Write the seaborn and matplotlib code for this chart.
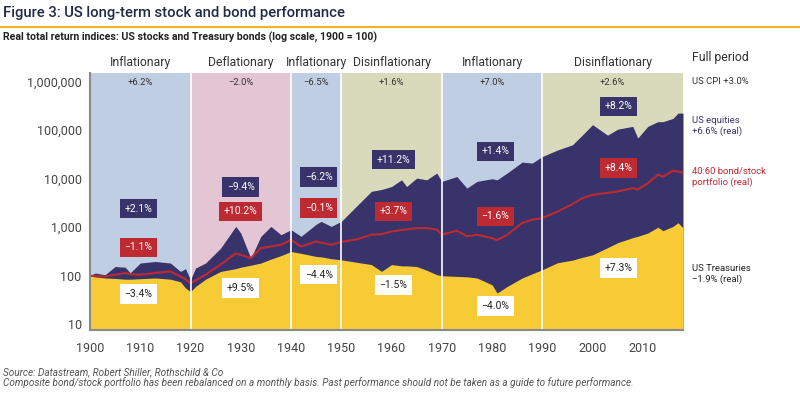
import matplotlib
matplotlib.use("Agg")
import matplotlib.pyplot as plt
from matplotlib.lines import Line2D
import pandas as pd
import seaborn as sns

# Datos (índices reales, escala log, 1900 = 100)
years = [1900, 1901, 1903, 1905, 1907, 1908, 1910, 1913, 1916, 1918,
         1919, 1920, 1921, 1923, 1926, 1929, 1930, 1932, 1934, 1936,
         1938, 1940, 1942, 1945, 1946, 1948, 1950, 1953, 1956, 1958,
         1960, 1962, 1963, 1965, 1967, 1969, 1970, 1973, 1975, 1977,
         1980, 1981, 1983, 1986, 1988, 1990, 1993, 1996, 1998, 2000,
         2003, 2005, 2008, 2009, 2011, 2013, 2014, 2016, 2017, 2018]
equities = [100, 114, 105, 155, 150, 115, 183, 197, 183, 123,
            140, 83, 144, 183, 372, 1040, 760, 230, 650, 1040,
            700, 890, 650, 1150, 1320, 1040, 1320, 2700, 5500, 6000,
            6900, 9500, 6900, 10300, 9500, 13100, 8800, 11100, 6400, 8800,
            10000, 9500, 13100, 22000, 21000, 28700, 39000, 50000, 80000, 130000,
            79000, 105000, 120000, 69000, 120000, 150000, 150000, 175000, 225000, 225000]
treasuries = [100, 95, 90, 88, 85, 85, 87, 90, 85, 75,
              56, 47, 60, 85, 123, 140, 150, 165, 183, 220,
              260, 316, 290, 250, 245, 225, 213, 190, 170, 123,
              170, 160, 160, 155, 130, 105, 100, 97, 95, 90,
              65, 44, 60, 90, 110, 133, 185, 210, 240, 270,
              380, 480, 610, 650, 760, 1000, 850, 1040, 1240, 975]
mix_4060 = [100, 98, 97, 105, 114, 108, 105, 114, 123, 97,
            85, 70, 80, 105, 170, 290, 270, 230, 372, 400,
            435, 550, 400, 510, 480, 435, 500, 560, 700, 720,
            820, 880, 900, 960, 960, 900, 700, 850, 650, 700,
            600, 540, 700, 1220, 1430, 1550, 2100, 3000, 4000, 4660,
            5100, 5500, 6400, 6000, 8100, 12100, 11000, 14700, 14000, 13400]

# Regímenes de inflación
reg_start = [1900, 1920, 1940, 1950, 1970, 1990]
reg_end = [1920, 1940, 1950, 1970, 1990, 2018]
reg_name = ['Inflationary', 'Deflationary', 'Inflationary', 'Disinflationary',
            'Inflationary', 'Disinflationary']
reg_cpi = ['+6.2%', '\u22122.0%', '\u22126.5%', '+1.6%', '+7.0%', '+2.6%']

# Rentabilidades por periodo (etiquetas)
eq_lbl = ['+2.1%', '\u22129.4%', '\u22126.2%', '+11.2%', '+1.4%', '+8.2%']
mix_lbl = ['\u22121.1%', '+10.2%', '\u22120.1%', '+3.7%', '\u22121.6%', '+8.4%']
bond_lbl = ['\u22123.4%', '+9.5%', '\u22124.4%', '\u22121.5%', '\u22124.0%', '+7.3%']
lbl_x = [1909.6, 1930, 1945.5, 1960.4, 1980.7, 2005.2]
eq_y = [2400, 6800, 10800, 24700, 36500, 310000]
mix_y = [383, 2120, 2490, 2120, 1670, 16600]
bond_y = [42, 56, 105, 65, 24, 144]

df = pd.DataFrame({'Año': years, 'Acciones': equities, 'Bonos': treasuries, 'Mix': mix_4060})

sns.set_style("white")
plt.rcParams['font.family'] = ['Roboto', 'DejaVu Sans']

navy = '#38336A'
yellow = '#F6CB35'
red = '#BE2A32'
reg_col = {'Inflationary': '#BFCEE3', 'Deflationary': '#E4C5D3', 'Disinflationary': '#D8DABB'}

fig = plt.figure(figsize=(8, 3.97), dpi=100)
ax = fig.add_axes([90 / 800, 1 - 330 / 397, 593 / 800, 256.7 / 397])

for s, e, n in zip(reg_start, reg_end, reg_name):
    ax.axvspan(s, e, color=reg_col[n], lw=0, zorder=0)

ax.fill_between(df['Año'], 1, df['Acciones'], color=navy, lw=0, zorder=1)
ax.fill_between(df['Año'], 1, df['Bonos'], color=yellow, lw=0, zorder=2)
sns.lineplot(x='Año', y='Mix', data=df, color=red, lw=1.5, ax=ax, zorder=3)

for x in reg_start[1:]:
    ax.axvline(x, color='white', lw=1.2, zorder=4)

ax.set_yscale('log')
ax.set_xlim(1900, 2018)
ax.set_ylim(10 ** 0.882, 10 ** 6.173)
ax.set_yticks([10, 100, 1000, 10000, 100000, 1000000])
ax.set_yticklabels(['10', '100', '1,000', '10,000', '100,000', '1,000,000'])
ax.minorticks_off()
ax.set_xticks(range(1900, 2011, 10))
ax.tick_params(axis='both', length=0, labelsize=9, colors='#444444')
ax.tick_params(axis='x', pad=9)
ax.tick_params(axis='y', pad=6)
ax.set_xlabel('')
ax.set_ylabel('')
for sp in ['top', 'right']:
    ax.spines[sp].set_visible(False)
for sp in ['left', 'bottom']:
    ax.spines[sp].set_color('#8A8A8A')
    ax.spines[sp].set_linewidth(1.5)
    ax.spines[sp].set_zorder(5)

trans = ax.get_xaxis_transform()
for s, e, n, c in zip(reg_start, reg_end, reg_name, reg_cpi):
    ax.text((s + e) / 2, 1.041, n, transform=trans, ha='center', va='center',
            fontsize=8.8, color='#333333')
    ax.text((s + e) / 2, 0.966, c, transform=trans, ha='center', va='center',
            fontsize=6.8, color='#333333', zorder=6)

box = dict(boxstyle='square,pad=0.45', lw=0)
for x, y, t in zip(lbl_x, eq_y, eq_lbl):
    ax.text(x, y, t, ha='center', va='center', fontsize=7.5, color='white',
            bbox=dict(box, fc=navy), zorder=6)
for x, y, t in zip(lbl_x, mix_y, mix_lbl):
    ax.text(x, y, t, ha='center', va='center', fontsize=7.5, color='white',
            bbox=dict(box, fc=red), zorder=6)
for x, y, t in zip(lbl_x, bond_y, bond_lbl):
    ax.text(x, y, t, ha='center', va='center', fontsize=7.5, color='#222222',
            bbox=dict(box, fc='white'), zorder=6)

# Anotaciones del periodo completo
fx = 692 / 800
fig.text(fx, 1 - 57 / 397, 'Full period', fontsize=8.8, color='#333333', va='center')
fig.text(fx, 1 - 82 / 397, 'US CPI +3.0%', fontsize=6.8, color='#333333', va='center')
fig.text(fx, 1 - 126 / 397, 'US equities\n+6.6% (real)', fontsize=6.8, color=navy,
         va='center', linespacing=1.3)
fig.text(fx, 1 - 177 / 397, '40:60 bond/stock\nportfolio (real)', fontsize=6.8, color=red,
         va='center', linespacing=1.3)
fig.text(fx, 1 - 274 / 397, 'US Treasuries\n\u22121.9% (real)', fontsize=6.8, color='#222222',
         va='center', linespacing=1.3)

# Títulos y notas
fig.text(0.004, 1 - 13 / 397, 'Figure 3: US long-term stock and bond performance',
         fontsize=10.6, color='#1F2A44', va='center', fontweight='medium')
fig.add_artist(Line2D([0, 1], [1 - 27 / 397] * 2, color='#F0B323', lw=1.5))
fig.text(0.004, 1 - 37 / 397,
         'Real total return indices: US stocks and Treasury bonds (log scale, 1900 = 100)',
         fontsize=7.6, color='#222222', va='center', fontweight='bold')
fig.text(0.004, 1 - 372 / 397, 'Source: Datastream, Robert Shiller, Rothschild & Co',
         fontsize=7.2, color='#555555', va='center', style='italic')
fig.text(0.004, 1 - 383 / 397,
         'Composite bond/stock portfolio has been rebalanced on a monthly basis. '
         'Past performance should not be taken as a guide to future performance.',
         fontsize=7.2, color='#555555', va='center', style='italic')

fig.savefig('out.png', dpi=100)
